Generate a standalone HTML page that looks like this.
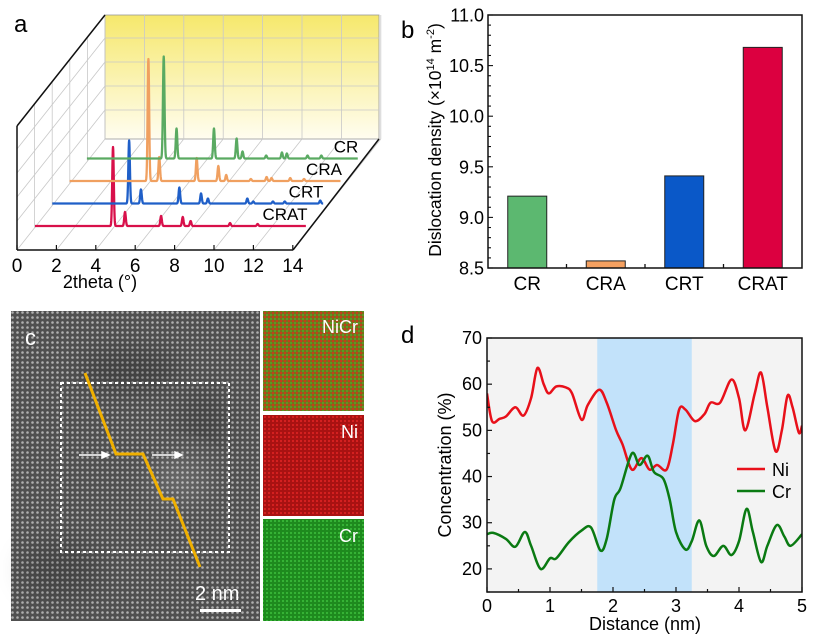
<!DOCTYPE html>
<html><head><meta charset="utf-8"><style>
body{margin:0;background:#fff}
svg{display:block;font-family:"Liberation Sans",Arial,sans-serif}
</style></head><body>
<svg id="fig" width="817" height="638" viewBox="0 0 817 638">
<defs>
<linearGradient id="ywall" x1="0" y1="0" x2="0" y2="1"><stop offset="0" stop-color="#f6e86c"/><stop offset="1" stop-color="#fffdf0"/></linearGradient>
<pattern id="atoms" width="5" height="5" patternUnits="userSpaceOnUse"><rect width="5" height="5" fill="#505050"/><circle cx="2.5" cy="2.5" r="1.3" fill="#b0b0b0"/></pattern>
<pattern id="nicr" width="4" height="4" patternUnits="userSpaceOnUse"><rect width="4" height="4" fill="#7d6c1c"/><rect x="0" y="0" width="2" height="2" fill="#c2401a"/><rect x="2" y="2" width="2" height="2" fill="#5a9a22"/></pattern>
<pattern id="ni" width="4" height="4" patternUnits="userSpaceOnUse"><rect width="4" height="4" fill="#a81212"/><rect x="0" y="0" width="2" height="2" fill="#d42020"/></pattern>
<pattern id="cr" width="4" height="4" patternUnits="userSpaceOnUse"><rect width="4" height="4" fill="#1e8a1e"/><rect x="2" y="0" width="2" height="2" fill="#35b235"/></pattern>
<clipPath id="dclip"><rect x="487" y="338" width="315" height="254"/></clipPath>
<filter id="blur"><feGaussianBlur stdDeviation="12"/></filter>
</defs>
<text x="14" y="32" font-size="24">a</text>
<text x="401" y="38" font-size="24">b</text>
<text x="401" y="343" font-size="24">d</text>
<g id="pa"></g>
<g id="pb"></g>
<g id="pc">
  <rect x="11" y="311" width="249" height="310" fill="url(#atoms)"/>
  <g filter="url(#blur)">
  <ellipse cx="130" cy="370" rx="50" ry="20" fill="#000" opacity="0.2"/>
  <ellipse cx="60" cy="570" rx="40" ry="30" fill="#000" opacity="0.15"/>
  <ellipse cx="205" cy="420" rx="25" ry="30" fill="#000" opacity="0.15"/>
  <ellipse cx="180" cy="480" rx="30" ry="25" fill="#fff" opacity="0.12"/>
  </g>
  <text x="25" y="345" font-size="22" fill="#fff">c</text>
  <rect x="61" y="383" width="168" height="169" fill="none" stroke="#fff" stroke-width="2" stroke-dasharray="3,3"/>
  <polyline points="85,373 116,454 143,454 163,499 173,499 200,567" fill="none" stroke="#f0b000" stroke-width="3"/>
  <g stroke="#fff" stroke-width="1.5" fill="#fff">
    <line x1="79" y1="455" x2="104" y2="455"/><polygon points="109,455 102,452 102,458"/>
    <line x1="152" y1="455" x2="177" y2="455"/><polygon points="182,455 175,452 175,458"/>
  </g>
  <text x="195" y="600" font-size="20" fill="#fff">2 nm</text>
  <rect x="200" y="609" width="41" height="3" fill="#fff"/>
  <rect x="263" y="311" width="101" height="100" fill="url(#nicr)"/>
  <rect x="263" y="415" width="101" height="101" fill="url(#ni)"/>
  <rect x="263" y="519" width="101" height="102" fill="url(#cr)"/>
  <text x="358" y="333" font-size="18" fill="#fff" text-anchor="end">NiCr</text>
  <text x="358" y="438" font-size="18" fill="#fff" text-anchor="end">Ni</text>
  <text x="358" y="542" font-size="18" fill="#fff" text-anchor="end">Cr</text>
</g>
<g id="pd"></g>
</svg>
<script>
// ---------- Panel a data ----------
const xrdSeries = ["CRAT","CRT","CRA","CR"];
const xrdColors = ["#d8104a","#1f5fc8","#f0a060","#5aaa62"];
const xrdPosCRAT = [3.96,4.57,6.4,7.5,7.9,9.9,11.3];
const xrdHCRAT = [79,14,10,9,5,3,2];
const xrdPosCRT = [3.9,4.5,6.45,7.55,7.9,9.9,10.2,11.2,11.8,13.6];
const xrdHCRT = [63,14,16,10,5,5,2,2,2,3];
const xrdPosCRA = [4.0,4.55,6.45,7.55,7.95,9.2,10.0,10.25,11.2,11.9];
const xrdHCRA = [122,24,23,15,6,2,4,3,3,2];
const xrdPosCR = [3.9,4.55,6.45,7.6,7.9,9.1,9.9,10.15,11.2,11.9];
const xrdHCR = [102,30,30,20,7,3,6,5,3,3];
const xTicksA = [0,2,4,6,8,10,12,14];
// ---------- Panel b data ----------
const barCats = ["CR","CRA","CRT","CRAT"];
const barVals = [9.21,8.57,9.41,10.68];
const barColors = ["#5cb870","#f4a060","#0a58c8","#dc0040"];
const bTicks = ["8.5","9.0","9.5","10.0","10.5","11.0"];
// ---------- Panel d data ----------
const niX = [0,0.08,0.2,0.3,0.45,0.58,0.7,0.8,0.9,0.98,1.1,1.25,1.35,1.5,1.6,1.78,1.9,2.05,2.15,2.3,2.45,2.58,2.7,2.85,2.95,3.05,3.15,3.3,3.45,3.55,3.7,3.88,4.0,4.1,4.25,4.35,4.45,4.58,4.68,4.77,4.85,4.95,5];
const niY = [58,52,52.5,53,55,53.2,57,63.5,60,58,59.5,59.3,58,52.3,55.5,58.8,56,50,47,41.5,44,41.5,42.5,41.5,47,54.5,54.5,52,53.5,56,56,61,57,50,58,62.5,55,45.5,50,57.5,55,49.5,51];
const crX = [0,0.1,0.3,0.45,0.6,0.7,0.85,1.0,1.1,1.3,1.5,1.65,1.8,1.9,2.02,2.12,2.3,2.42,2.55,2.65,2.8,2.9,3.0,3.15,3.25,3.37,3.48,3.6,3.75,3.88,4.0,4.12,4.22,4.35,4.45,4.6,4.72,4.82,5];
const crY = [27.5,27.8,26.5,24.8,28,25,20,22.3,22.3,25.8,28.3,29,24,26.5,35,37.5,45,42.5,44.5,41,39.5,35,28,24.2,26,30.5,25,22.8,25,23,26,33,28,21.5,25,29.5,27,25,27.5];
const dXTicks = [0,1,2,3,4,5];
const dYTicks = [20,30,40,50,60,70];
const bandStart = 1.75, bandEnd = 3.25;

const NS="http://www.w3.org/2000/svg";
function mk(parent, tag, attrs, text){const e=document.createElementNS(NS,tag);for(const k in attrs)e.setAttribute(k,attrs[k]);if(text!==undefined)e.textContent=text;parent.appendChild(e);return e;}

// ===== Panel a =====
(function(){
  const g=document.getElementById('pa');
  const fx=v=>17+v*19.7;
  const DX=88, DY=-111;
  mk(g,'rect',{x:105,y:15,width:274,height:124,fill:'url(#ywall)',stroke:'#999','stroke-width':0.8});
  const grid={stroke:'#c8c8c8','stroke-width':0.8,fill:'none'};
  xTicksA.forEach(t=>{mk(g,'line',Object.assign({x1:fx(t)+DX,y1:15,x2:fx(t)+DX,y2:139},grid));
    mk(g,'line',Object.assign({x1:fx(t),y1:250,x2:fx(t)+DX,y2:250+DY},grid));});
  [38,62,86,110].forEach(y=>{mk(g,'line',Object.assign({x1:105,y1:y,x2:379,y2:y},grid));
    mk(g,'line',Object.assign({x1:17,y1:y+111,x2:105,y2:y},grid));});
  [0.2,0.4,0.6,0.8].forEach(f=>{const x=17+DX*f,y=250+DY*f;
    mk(g,'line',Object.assign({x1:x,y1:y,x2:x,y2:y-124},grid));});
  const ax={stroke:'#111','stroke-width':1.5,fill:'none'};
  mk(g,'line',Object.assign({x1:17,y1:126,x2:17,y2:250},ax));
  mk(g,'line',Object.assign({x1:17,y1:126,x2:105,y2:15},ax));
  mk(g,'line',Object.assign({x1:17,y1:250,x2:293,y2:250},ax));
  mk(g,'line',Object.assign({x1:293,y1:250,x2:379,y2:139},ax));
  xTicksA.forEach(t=>{
    mk(g,'line',{x1:fx(t),y1:250,x2:fx(t),y2:245,stroke:'#111','stroke-width':1.2});
    const tl=mk(g,'text',{x:fx(t),y:272,'font-size':19,'text-anchor':'middle'},String(t));
    
    
  });
  const xt=mk(g,'text',{x:100,y:288,'font-size':18,'text-anchor':'middle'},'2theta (°)');
  
  
  const pos=[xrdPosCRAT,xrdPosCRT,xrdPosCRA,xrdPosCR], hs=[xrdHCRAT,xrdHCRT,xrdHCRA,xrdHCR];
  const labX=[285,306,324,346];
  for(let i=0;i<4;i++){
    const x0=35+17.3*i, by=226-22.5*i;
    let d='';
    for(let v=0;v<=13.75;v+=0.01){
      let h=0; pos[i].forEach((p,k)=>{h+=hs[i][k]*Math.exp(-Math.pow((v-p)/0.055,2));});
      d+=(d?'L':'M')+(x0+v*19.7).toFixed(2)+','+(by-h).toFixed(2);
    }
    const p=mk(g,'path',{d:d,fill:'none',stroke:xrdColors[i],'stroke-width':2.3,'stroke-linejoin':'round'});
    
    
    const t=mk(g,'text',{x:labX[i],y:by-6,'font-size':17,'text-anchor':'middle'},xrdSeries[i]);
    
    
  }
})();

// ===== Panel b =====
(function(){
  const g=document.getElementById('pb');
  const L=488,R=802,T=15,B=268, ymin=8.5,ymax=11.0;
  const ys=v=>B-(v-ymin)/(ymax-ymin)*(B-T);
  const step=(R-L)/4;
  const xs=i=>L+step*(i+0.5);
  barCats.forEach((c,i)=>{
    const r=mk(g,'rect',{x:xs(i)-19.5,y:ys(barVals[i]),width:39,height:B-ys(barVals[i]),fill:barColors[i],stroke:'#222','stroke-width':1});
    
    
    const t=mk(g,'text',{x:xs(i),y:290,'font-size':19,'text-anchor':'middle'},c);
    
    
    if(i>0) mk(g,'line',{x1:L+step*i,y1:B,x2:L+step*i,y2:B-4,stroke:'#111','stroke-width':1.3});
  });
  for(let v=85;v<=110;v++){
    const y=ys(v/10), major=v%5===0;
    mk(g,'line',{x1:L,y1:y,x2:L+(major?5:3),y2:y,stroke:'#111','stroke-width':1.1});
  }
  bTicks.forEach(s=>{
    const t=mk(g,'text',{x:484,y:ys(parseFloat(s))+6.5,'font-size':18,'text-anchor':'end'},s);
    
    
  });
  mk(g,'rect',{x:L,y:T,width:R-L,height:B-T,fill:'none',stroke:'#111','stroke-width':1.5});
  const yt=mk(g,'text',{x:0,y:0,'font-size':17.5,'text-anchor':'middle',transform:'translate(441,140) rotate(-90)'});
  
  
  yt.innerHTML='Dislocation density (×10<tspan dy="-7" font-size="11">14</tspan><tspan dy="7"> m</tspan><tspan dy="-7" font-size="11">-2</tspan><tspan dy="7">)</tspan>';
})();

// ===== Panel d =====
(function(){
  const g=document.getElementById('pd');
  const L=487,R=802,T=338,B=592, xmin=0,xmax=5,ymin=15,ymax=70;
  const xs=v=>L+(v-xmin)/(xmax-xmin)*(R-L);
  const ys=v=>B-(v-ymin)/(ymax-ymin)*(B-T);
  mk(g,'rect',{x:L,y:T,width:R-L,height:B-T,fill:'#f3f3f3'});
  const band=mk(g,'rect',{x:xs(bandStart),y:T,width:xs(bandEnd)-xs(bandStart),height:B-T,fill:'#c2e2fa'});
  
  
  function curve(X,Y){
    const P=X.map((x,i)=>[xs(x),ys(Y[i])]);
    let d='M'+P[0][0]+','+P[0][1];
    for(let i=0;i<P.length-1;i++){
      const p0=P[i-1]||P[i],p1=P[i],p2=P[i+1],p3=P[i+2]||P[i+1];
      const c1=[p1[0]+(p2[0]-p0[0])/6,p1[1]+(p2[1]-p0[1])/6];
      const c2=[p2[0]-(p3[0]-p1[0])/6,p2[1]-(p3[1]-p1[1])/6];
      d+=`C${c1[0].toFixed(2)},${c1[1].toFixed(2)} ${c2[0].toFixed(2)},${c2[1].toFixed(2)} ${p2[0].toFixed(2)},${p2[1].toFixed(2)}`;
    }
    return d;
  }
  const ni=mk(g,'path',{d:curve(niX,niY),fill:'none',stroke:'#e8101a','stroke-width':2.5,'clip-path':'url(#dclip)'});
  
  
  const cr=mk(g,'path',{d:curve(crX,crY),fill:'none',stroke:'#0a7a12','stroke-width':2.5,'clip-path':'url(#dclip)'});
  
  
  for(let v=0;v<=50;v+=5){const major=v%10===0;
    mk(g,'line',{x1:xs(v/10),y1:B,x2:xs(v/10),y2:B-(major?5:3),stroke:'#111','stroke-width':1.2});}
  for(let v=15;v<=70;v+=5){mk(g,'line',{x1:L,y1:ys(v),x2:L+(v%10===0?5:3),y2:ys(v),stroke:'#111','stroke-width':1.2});}
  dXTicks.forEach(v=>{const t=mk(g,'text',{x:xs(v),y:612,'font-size':18,'text-anchor':'middle'},String(v));
    
    });
  dYTicks.forEach(v=>{const t=mk(g,'text',{x:482,y:ys(v)+6,'font-size':18,'text-anchor':'end'},String(v));
    
    });
  mk(g,'rect',{x:L,y:T,width:R-L,height:B-T,fill:'none',stroke:'#111','stroke-width':1.5});
  const xt=mk(g,'text',{x:645,y:630,'font-size':18,'text-anchor':'middle'},'Distance (nm)');
  
  
  const yt=mk(g,'text',{x:0,y:0,'font-size':18,'text-anchor':'middle',transform:'translate(451,465) rotate(-90)'},'Concentration (%)');
  
  
  const l1=mk(g,'line',{x1:737,y1:469,x2:765,y2:469,stroke:'#e8101a','stroke-width':2.5});
  
  
  mk(g,'text',{x:772,y:476,'font-size':18},'Ni');
  const l2=mk(g,'line',{x1:737,y1:491,x2:765,y2:491,stroke:'#0a7a12','stroke-width':2.5});
  
  
  mk(g,'text',{x:772,y:498,'font-size':18},'Cr');
})();
</script>
</body></html>
